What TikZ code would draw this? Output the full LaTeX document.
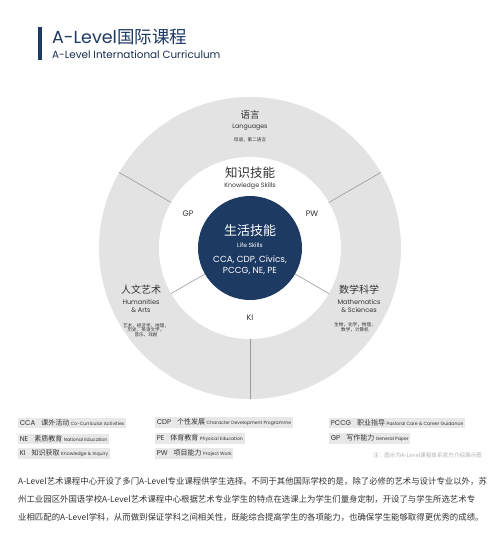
\documentclass[tikz,border=0pt]{standalone}
\usepackage{fontspec}
\setmainfont{Poppins}
\newfontfamily\cjk{Noto Sans CJK SC}
\usetikzlibrary{positioning}
\definecolor{navy}{HTML}{1D3A63}
\definecolor{ringgray}{HTML}{E3E3E3}
\definecolor{txt}{HTML}{333333}
\definecolor{boxgray}{HTML}{E8E8E8}
\definecolor{notegray}{HTML}{B0B0B0}
\newcommand{\sz}[1]{\fontsize{#1}{#1}\selectfont}
\newcommand{\keyentry}[3]{\sz{7}#1\hspace{6pt}{\cjk #2}\hspace{1.5pt}{\sz{4.6}#3}}
\begin{document}
\begin{tikzpicture}[x=1pt,y=1pt,
  lbl/.style={text=txt,inner sep=0pt,align=center},
  core/.style={text=white,inner sep=0pt,align=center},
  divider/.style={draw=gray!80,line width=0.6pt},
  keybox/.style={fill=boxgray,inner sep=1.6pt,anchor=west,text=txt,minimum height=10pt},
  para/.style={anchor=west,inner sep=0pt,text=txt,font=\cjk\sz{8.4}}]
\useasboundingbox[fill=white] (0,0) rectangle (500,-536);
% title
\fill[navy] (38,-27) rectangle (41.5,-60);
\node[anchor=base west,inner sep=0pt,text=navy,font=\sz{17.5}] (title) at (52,-43) {A-Level{\cjk 国际课程}};
\node[anchor=base west,inner sep=0pt,text=navy!80!black,font=\sz{10.4}] (subtitle) at (52,-58) {A-Level International Curriculum};
% rings
\coordinate (c) at (250,-248);
\fill[ringgray] (c) circle (151);
\fill[white] (c) circle (91);
\node[circle,fill=navy,minimum size=104pt,inner sep=0pt] (lifecore) at (c) {};
\foreach \a in {30,150,270}
  \draw[divider] ([shift={(\a:91)}]c) -- ([shift={(\a:151)}]c);
\foreach \a in {210,330}
  \draw[divider] ([shift={(\a:52)}]c) -- ([shift={(\a:91)}]c);
% outer ring
\node[lbl,font=\cjk\sz{9.5}] (lang) at (250,-115) {语言};
\node[lbl,font=\sz{6.3}] (langen) at (250,-127) {Languages};
\node[lbl,font=\cjk\sz{4.6}] (langsub) at (250,-140) {母语，第二语言};
\node[lbl,font=\cjk\sz{10}] (hum) at (141,-290) {人文艺术};
\node[lbl,font=\sz{6.5}] (humen) at (141,-306) {Humanities\\[1pt]\& Arts};
\node[lbl,font=\cjk\sz{4.6}] (humsub) at (146,-330) {艺术，经济学，地理，\\历史，英语文学，\\音乐，戏剧};
\node[lbl,font=\cjk\sz{10}] (math) at (359,-290) {数学科学};
\node[lbl,font=\sz{6.5}] (mathen) at (359,-306) {Mathematics\\[1pt]\& Sciences};
\node[lbl,font=\cjk\sz{4.6}] (mathsub) at (355,-327) {生物，化学，物理，\\数学，计算机};
% middle ring
\node[lbl,font=\cjk\sz{12.5}] (know) at (250,-173) {知识技能};
\node[lbl,font=\sz{6.3}] (knowen) at (250,-186) {Knowledge Skills};
\node[lbl,font=\sz{8}] (gp) at (188,-214) {GP};
\node[lbl,font=\sz{8}] (pw) at (312,-214) {PW};
\node[lbl,font=\sz{8}] (ki) at (250,-318) {KI};
% core
\node[core,font=\cjk\sz{13}] (life) at (250,-231) {生活技能};
\node[core,font=\sz{6}] (lifeen) at (250,-245) {Life Skills};
\node[core,font=\sz{8.8}] (lifelist) at (250,-265) {CCA, CDP, Civics,\\[2pt]PCCG, NE, PE};
% key
\node[keybox] (ccakey) at (18,-422.5) {\keyentry{CCA}{课外活动}{Co-Curricular Activities}};
\node[keybox] (nekey) at (18,-438.5) {\keyentry{NE}{素质教育}{National Education}};
\node[keybox] (kikey) at (18,-453.5) {\keyentry{KI}{知识获取}{Knowledge \& Inquiry}};
\node[keybox] (cdpkey) at (155,-422.5) {\keyentry{CDP}{个性发展}{Character Development Programme}};
\node[keybox] (pekey) at (155,-438.5) {\keyentry{PE}{体育教育}{Physical Education}};
\node[keybox] (pwkey) at (155,-453.5) {\keyentry{PW}{项目能力}{Project Work}};
\node[keybox] (pccgkey) at (329,-422.5) {\keyentry{PCCG}{职业指导}{Pastoral Care \& Career Guidance}};
\node[keybox] (gpkey) at (329,-438.5) {\keyentry{GP}{写作能力}{General Paper}};
\node[anchor=west,inner sep=0pt,text=notegray,font=\cjk\sz{5.6}] (note) at (373,-455) {注：图示为A-Level课程体系官方介绍展示图};
% text
\node[para] (line1) at (18,-481) {A-Level艺术课程中心开设了多门A-Level专业课程供学生选择。不同于其他国际学校的是，除了必修的艺术与设计专业以外，苏};
\node[para] (line2) at (18,-499) {州工业园区外国语学校A-Level艺术课程中心根据艺术专业学生的特点在选课上为学生们量身定制，开设了与学生所选艺术专};
\node[para] (line3) at (18,-517) {业相匹配的A-Level学科，从而做到保证学科之间相关性，既能综合提高学生的各项能力，也确保学生能够取得更优秀的成绩。};
\end{tikzpicture}
\end{document}
